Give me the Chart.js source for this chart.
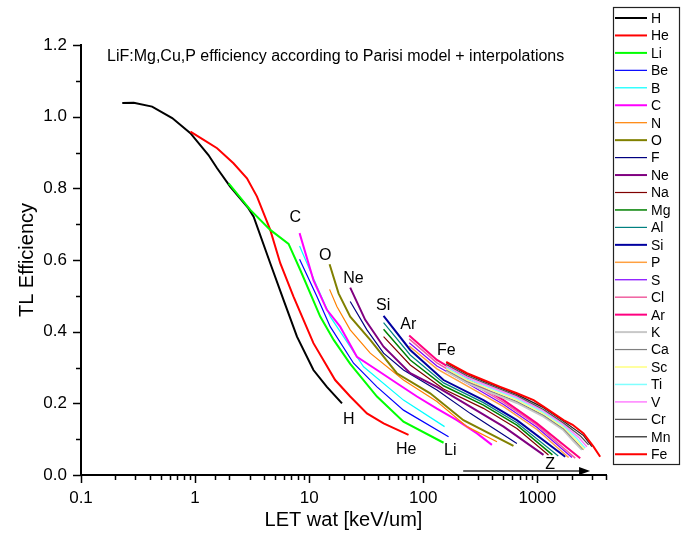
<!DOCTYPE html>
<html><head><meta charset="utf-8">
<script src="https://cdn.jsdelivr.net/npm/chart.js@4/dist/chart.umd.min.js"></script>
<style>html,body{margin:0;padding:0;background:#fff;}#wrap{width:682px;height:545px;}</style>
</head><body><div id="wrap"><canvas id="c" width="682" height="545"></canvas></div>
<script>
// ---- data (LET in keV/um, TL efficiency) ----
const ions = ['H','He','Li','Be','B','C','N','O','F','Ne','Na','Mg','Al','Si','P','S','Cl','Ar','K','Ca','Sc','Ti','V','Cr','Mn','Fe'];

const H_let  = [0.23, 0.29, 0.42, 0.63, 0.91, 1.31, 1.56, 2.03, 2.94, 3.26, 4.56, 5.97, 7.82, 10.9, 14.3, 19.4];
const H_eff  = [1.038, 1.039, 1.028, 0.996, 0.954, 0.893, 0.856, 0.805, 0.744, 0.721, 0.591, 0.488, 0.386, 0.293, 0.246, 0.200];
const He_let = [0.91, 1.19, 1.56, 2.17, 2.85, 3.49, 4.56, 5.58, 7.29, 10.9, 16.9, 22.9, 32.1, 44.9, 74.3];
const He_eff = [0.958, 0.935, 0.912, 0.870, 0.828, 0.777, 0.684, 0.591, 0.498, 0.368, 0.265, 0.219, 0.172, 0.144, 0.112];
const Li_let = [1.97, 3.05, 4.56, 6.6, 8.36, 12.5, 16.4, 22.9, 39.3, 67.1, 150.7];
const Li_eff = [0.814, 0.740, 0.684, 0.645, 0.572, 0.442, 0.377, 0.310, 0.219, 0.149, 0.090];
const Be_let = [8.24, 11.7, 15.3, 24.5, 39.3, 67.1, 166.7];
const Be_eff = [0.602, 0.498, 0.414, 0.312, 0.246, 0.181, 0.107];
const B_let  = [8.24, 11.7, 15.3, 30, 67.1, 153.8];
const B_eff  = [0.639, 0.526, 0.442, 0.302, 0.209, 0.135];
const C_let  = [8.24, 10.9, 14.3, 18.7, 26.2, 39.3, 58.7, 88.1, 131.8, 197, 296, 400];
const C_eff  = [0.675, 0.544, 0.461, 0.414, 0.330, 0.293, 0.256, 0.219, 0.185, 0.153, 0.116, 0.084];
const N_let  = [15.1, 17.5, 22.9, 34.3, 67.1, 131.8, 241.6, 443];
const N_eff  = [0.518, 0.470, 0.405, 0.340, 0.265, 0.205, 0.135, 0.093];
const O_let  = [15.1, 18.1, 22.9, 34.3, 58.7, 115, 225, 618];
const O_eff  = [0.588, 0.507, 0.442, 0.377, 0.284, 0.228, 0.153, 0.081];
const F_let  = [22.9, 32.1, 44.9, 67.1, 131.8, 258, 662];
const F_eff  = [0.484, 0.405, 0.340, 0.293, 0.237, 0.172, 0.088];
const Ne_let = [22.9, 31, 44.9, 76.9, 131.8, 258, 506, 1133];
const Ne_eff = [0.523, 0.433, 0.358, 0.284, 0.246, 0.191, 0.135, 0.056];
const Na_let = [44.9, 76.9, 150.7, 337, 662, 1253];
const Na_eff = [0.386, 0.307, 0.240, 0.186, 0.130, 0.056];
const Mg_let = [44.9, 76.9, 150.7, 337, 662, 1357];
const Mg_eff = [0.407, 0.321, 0.249, 0.195, 0.139, 0.056];
const Al_let = [44.9, 76.9, 150.7, 337, 662, 1526];
const Al_eff = [0.425, 0.335, 0.257, 0.202, 0.146, 0.053];
const Si_let = [44.9, 76.9, 150.7, 337, 662, 1756];
const Si_eff = [0.444, 0.349, 0.265, 0.209, 0.153, 0.051];
const P_let  = [75.3, 131.8, 258, 506, 992, 1880];
const P_eff  = [0.360, 0.296, 0.244, 0.191, 0.127, 0.049];
const S_let  = [75.3, 131.8, 258, 506, 992, 2013];
const S_eff  = [0.369, 0.304, 0.251, 0.197, 0.133, 0.049];
const Cl_let = [75.3, 131.8, 258, 506, 992, 2150];
const Cl_eff = [0.380, 0.313, 0.258, 0.203, 0.139, 0.047];
const Ar_let = [75.3, 131.8, 258, 506, 992, 2377];
const Ar_eff = [0.389, 0.321, 0.265, 0.209, 0.144, 0.047];
const K_let  = [159, 241.6, 337, 662, 1133, 1698, 2050, 2460];
const K_eff  = [0.289, 0.257, 0.238, 0.201, 0.163, 0.125, 0.096, 0.070];
const Ca_let = [159, 241.6, 337, 662, 1133, 1698, 2100, 2542];
const Ca_eff = [0.293, 0.261, 0.242, 0.205, 0.167, 0.129, 0.098, 0.070];
const Sc_let = [159, 241.6, 337, 662, 1133, 1698, 2150, 2580];
const Sc_eff = [0.297, 0.265, 0.246, 0.209, 0.171, 0.133, 0.100, 0.072];
const Ti_let = [159, 241.6, 337, 662, 1133, 1698, 2200, 2630];
const Ti_eff = [0.301, 0.269, 0.250, 0.213, 0.175, 0.137, 0.103, 0.075];
const V_let  = [159, 241.6, 337, 662, 1133, 1698, 2300, 2720];
const V_eff  = [0.305, 0.273, 0.254, 0.217, 0.179, 0.141, 0.105, 0.079];
const Cr_let = [159, 241.6, 337, 662, 1133, 1698, 2400, 2815];
const Cr_eff = [0.309, 0.277, 0.258, 0.221, 0.183, 0.145, 0.108, 0.084];
const Mn_let = [159, 241.6, 337, 662, 1133, 1698, 2542, 3010];
const Mn_eff = [0.313, 0.281, 0.262, 0.225, 0.188, 0.150, 0.110, 0.079];
const Fe_let = [159, 241.6, 337, 473, 662, 927, 1133, 1387, 1698, 2040, 2542, 3108, 3556];
const Fe_eff = [0.316, 0.284, 0.265, 0.246, 0.228, 0.209, 0.191, 0.172, 0.153, 0.140, 0.116, 0.079, 0.051];

const letData = [H_let,He_let,Li_let,Be_let,B_let,C_let,N_let,O_let,F_let,Ne_let,Na_let,Mg_let,Al_let,Si_let,P_let,S_let,Cl_let,Ar_let,K_let,Ca_let,Sc_let,Ti_let,V_let,Cr_let,Mn_let,Fe_let];
const effData = [H_eff,He_eff,Li_eff,Be_eff,B_eff,C_eff,N_eff,O_eff,F_eff,Ne_eff,Na_eff,Mg_eff,Al_eff,Si_eff,P_eff,S_eff,Cl_eff,Ar_eff,K_eff,Ca_eff,Sc_eff,Ti_eff,V_eff,Cr_eff,Mn_eff,Fe_eff];

// in-plot labels
const labelNames = ['C','O','Ne','Si','Ar','Fe','H','He','Li','Z'];
const labelLET   = [7.55, 13.8, 24.4, 44.6, 73.9, 159, 22.2, 71, 172.6, 1297];
const labelEff   = [0.717, 0.611, 0.547, 0.474, 0.421, 0.346, 0.155, 0.070, 0.067, 0.028];
const arrowLET = [224, 2900];
const arrowEff = [0.011, 0.011];

const yTicks = [0, 0.2, 0.4, 0.6, 0.8, 1.0, 1.2];
const xTickLabels = [0.1, 1, 10, 100, 1000];

// ---- styles ----
const colors = ['#000000','#FF0000','#00FF00','#0000FF','#00FFFF','#FF00FF','#FF8000','#808000','#000080','#800080',
  '#800000','#008000','#008080','#0000A0','#FFA040','#8000FF','#F060A0','#FF0080','#C8C8C8','#808080',
  '#FFFF80','#80FFFF','#FF80FF','#505050','#202020','#FF0000'];
const widths = [2,2,2,1.2,1.2,2,1.2,2,1.2,2, 1.2,1.5,1.2,2,1.5,1.2,1.5,2,2,1.2, 1.5,1.5,1.5,1.2,1.2,2];

const FONT = "'Liberation Sans', Arial, sans-serif";
Chart.defaults.font.family = FONT;
Chart.defaults.color = '#000';

const datasets = ions.map((name, i) => ({
  label: name,
  data: letData[i].map((x, j) => ({x: x, y: effData[i][j]})),
  borderColor: colors[i],
  backgroundColor: colors[i],
  borderWidth: widths[i],
  pointRadius: 0,
  tension: 0,
  fill: false,
  order: ions.length - i
}));

function isPow10(v){ const l = Math.log10(v); return Math.abs(l - Math.round(l)) < 1e-6; }

const tickPlugin = {
  id: 'ticksAndDecor',
  afterDraw(chart) {
    const ctx = chart.ctx;
    const xs = chart.scales.x, ys = chart.scales.y;
    const ca = chart.chartArea;
    ctx.save();
    ctx.strokeStyle = '#000';
    ctx.lineWidth = 1.5;
    xs.ticks.forEach(t => {
      const px = Math.round(xs.getPixelForValue(t.value)) + 0.5;
      const len = isPow10(t.value) ? 8 : 5;
      ctx.beginPath(); ctx.moveTo(px, ca.bottom); ctx.lineTo(px, ca.bottom + len); ctx.stroke();
    });
    ys.ticks.forEach(t => {
      const py = Math.round(ys.getPixelForValue(t.value)) + 0.5;
      const major = yTicks.some(v => Math.abs(v - t.value) < 1e-6);
      const len = major ? 8 : 5;
      ctx.beginPath(); ctx.moveTo(ca.left - len, py); ctx.lineTo(ca.left, py); ctx.stroke();
    });

    // title inside plot
    ctx.fillStyle = '#000';
    ctx.font = '16px ' + FONT;
    ctx.textAlign = 'left'; ctx.textBaseline = 'middle';
    ctx.fillText('LiF:Mg,Cu,P efficiency according to Parisi model + interpolations', 107, 57);

    // in-plot labels
    ctx.font = '16px ' + FONT;
    ctx.textAlign = 'center';
    labelNames.forEach((n, i) => {
      ctx.fillText(n, xs.getPixelForValue(labelLET[i]), ys.getPixelForValue(labelEff[i]));
    });

    // arrow
    const ax0 = xs.getPixelForValue(arrowLET[0]), ax1 = xs.getPixelForValue(arrowLET[1]);
    const ay0 = ys.getPixelForValue(arrowEff[0]), ay1 = ys.getPixelForValue(arrowEff[1]);
    ctx.strokeStyle = '#333'; ctx.lineWidth = 1.5;
    ctx.beginPath(); ctx.moveTo(ax0, ay0); ctx.lineTo(ax1 - 8, ay1); ctx.stroke();
    ctx.fillStyle = '#000';
    ctx.beginPath(); ctx.moveTo(ax1, ay1); ctx.lineTo(ax1 - 11, ay1 - 4); ctx.lineTo(ax1 - 11, ay1 + 4); ctx.closePath(); ctx.fill();

    // legend
    const lx = 613, ly = 7, lw = 66, lh = 457;
    ctx.strokeStyle = '#222'; ctx.lineWidth = 1.2;
    ctx.strokeRect(lx + 0.5, ly + 0.5, lw, lh);
    ctx.font = '14px ' + FONT;
    ctx.textAlign = 'left'; ctx.textBaseline = 'middle';
    chart.data.datasets.forEach((ds, i) => {
      const y = 18 + i * 17.45;
      ctx.strokeStyle = ds.borderColor; ctx.lineWidth = ds.borderWidth;
      ctx.beginPath(); ctx.moveTo(615, y); ctx.lineTo(647, y); ctx.stroke();
      ctx.fillStyle = '#000';
      ctx.fillText(ds.label, 651, y + 1);
    });
    ctx.restore();
  }
};

new Chart(document.getElementById('c'), {
  type: 'line',
  data: { datasets: datasets },
  plugins: [tickPlugin],
  options: {
    responsive: false,
    animation: false,
    devicePixelRatio: 1,
    layout: { padding: { top: 45, right: 76, bottom: 0, left: 0 } },
    plugins: { legend: { display: false }, tooltip: { enabled: false } },
    scales: {
      x: {
        type: 'logarithmic',
        position: 'bottom',
        min: 0.1, max: 4000,
        afterFit: s => { s.height = 70; },
        grid: { drawOnChartArea: false, color: 'rgba(0,0,0,0)', tickLength: 8 },
        border: { display: true, color: '#000', width: 2 },
        ticks: {
          autoSkip: false, maxRotation: 0, padding: 5,
          font: { size: 17 }, color: '#000',
          callback: (v) => xTickLabels.some(t => Math.abs(t - v) / t < 1e-6) ? String(v) : ''
        },
        title: { display: true, text: 'LET wat [keV/um]', font: { size: 20 }, color: '#000', padding: { top: 0, bottom: 13 } }
      },
      y: {
        type: 'linear',
        position: 'left',
        min: 0, max: 1.2,
        afterFit: s => { s.width = 81; },
        grid: { drawOnChartArea: false, color: 'rgba(0,0,0,0)', tickLength: 8 },
        border: { display: true, color: '#000', width: 2 },
        ticks: {
          stepSize: 0.1, padding: 6, font: { size: 17 }, color: '#000',
          callback: (v) => yTicks.some(t => Math.abs(t - v) < 1e-6) ? v.toFixed(1) : ''
        },
        title: { display: true, text: 'TL Efficiency', font: { size: 20 }, color: '#000', padding: { top: 15, bottom: 0 } }
      }
    }
  }
});
</script></body></html>
